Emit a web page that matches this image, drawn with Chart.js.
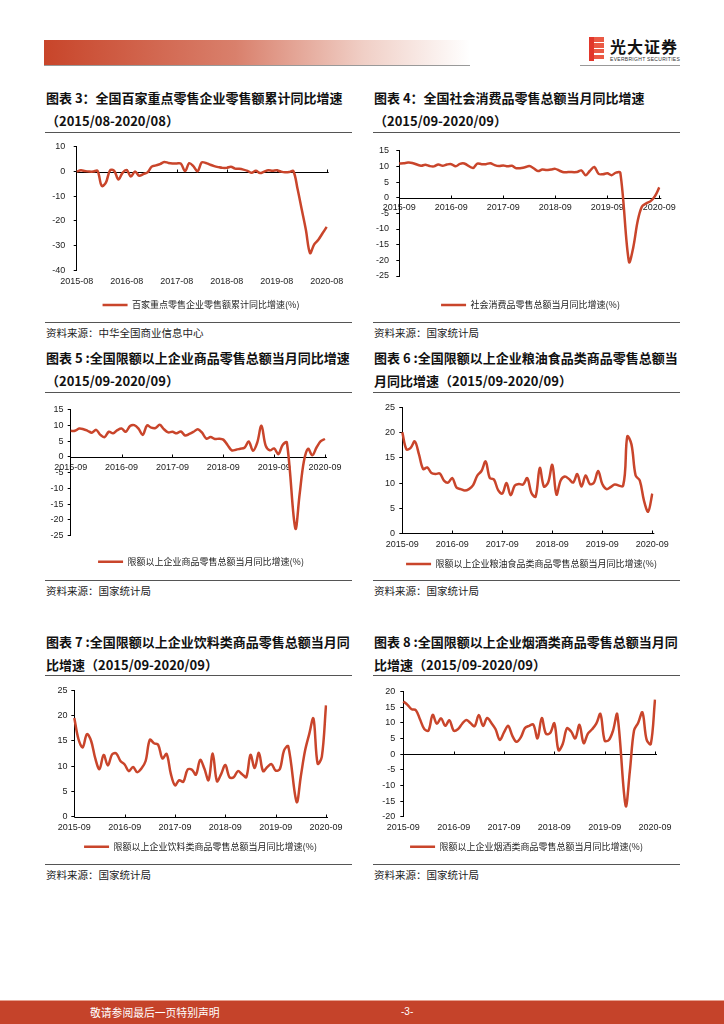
<!DOCTYPE html>
<html lang="zh-CN">
<head>
<meta charset="utf-8">
<title>社会消费品零售增速</title>
<script src="https://cdn.jsdelivr.net/npm/chart.js@4.4.1/dist/chart.umd.min.js"></script>
<style>
  html, body { margin: 0; padding: 0; background: #fff; }
  #page { position: relative; width: 724px; height: 1024px; overflow: hidden; font-family: "Noto Sans CJK SC", sans-serif; color: #111; }
  .abs { position: absolute; white-space: nowrap; }
  .title { font-size: 13px; font-weight: 700; line-height: 16px; color: #111; }
  .source { font-size: 10.5px; line-height: 14px; color: #222; }
  .rule { position: absolute; height: 1px; background: #555; }
  canvas { position: absolute; }
</style>
</head>
<body>
<div id="page">
  <div class="abs" style="left:44px;top:40px;width:426px;height:25px;background:linear-gradient(to right,#c8452a 0%,#d9806c 45%,#f0cfc6 75%,#fff 100%);"></div>
  <div class="rule" style="left:44px;top:65px;width:426px;background:#999;"></div>
  <div class="rule" style="left:580px;top:65px;width:100px;background:#999;"></div>
  <div class="abs" style="left:589px;top:37px;width:5px;height:24px;background:#e2372b;"></div>
  <div class="abs" style="left:594px;top:37px;width:10px;height:24px;background:repeating-linear-gradient(to bottom,#ea5a45 0px,#ea5a45 4.5px,#fff 4.5px,#fff 6px);"></div>
  <div class="abs" style="left:610px;top:37px;font-size:16px;line-height:18px;font-weight:700;letter-spacing:1px;color:#111;">光大证券</div>
  <div class="abs" style="left:610px;top:56px;font-family:'Liberation Sans',Arial,sans-serif;font-size:5px;line-height:6px;letter-spacing:0.3px;color:#333;">EVERBRIGHT SECURITIES</div>

  <div class="abs" style="left:0;top:1000px;width:724px;height:24px;background:#c5432a;border-top:1px solid #e6a190;"></div>
  <div class="abs" style="left:90px;top:1005px;font-size:10.8px;line-height:14px;color:#fff;">敬请参阅最后一页特别声明</div>
  <div class="abs" style="left:401px;top:1005px;font-family:'Liberation Sans',Arial,sans-serif;font-size:10px;line-height:14px;color:#fff;">-3-</div>
</div>
<script>
const LINE_RED = '#c9452b';
const CJK = '"Noto Sans CJK SC", sans-serif';
const LATIN = '"Liberation Sans", Arial, sans-serif';

// month categories
function monthLabels(startYear, startMonth, count) {
  const out = [];
  for (let i = 0; i < count; i++) {
    const m = startMonth - 1 + i;
    const y = startYear + Math.floor(m / 12);
    out.push(y + '-' + String(m % 12 + 1).padStart(2, '0'));
  }
  return out;
}
const months08 = monthLabels(2015, 8, 61);
const months09 = monthLabels(2015, 9, 61);
const yearTicks08 = ['2015-08', '2016-08', '2017-08', '2018-08', '2019-08', '2020-08'];
const yearTicks09 = ['2015-09', '2016-09', '2017-09', '2018-09', '2019-09', '2020-09'];

// 图表3 百家重点零售企业零售额累计同比增速(%)
const top100Retail = [0, 0.5, 0.2, 0, 0, 0.3, -5.8, -4.5, 0.5, 0.3,
  -3.2, -0.5, 0.6, -2, 0, -1.7, -1, -0.3, 2, 2.5,
  3, 3.9, 3.5, 3.3, 3.3, 3.2, 0.2, 3.4, 2.2, 0.1,
  3.7, 3.5, 2.8, 2.2, 1.8, 1.5, 1.5, 2, 1.2, 1.1,
  0.8, 0.3, -0.5, 0.3, -0.6, 0, 0.5, 0.3, 0.5, 0,
  -0.3, -0.2, 0.2, -7, -15.3, -23.6, -33, -29.5, -27.6, -25,
  -22.4];

// 图表4 社会消费品零售总额当月同比增速(%)
const totalRetail = [10.9, 11.0, 11.2, 11.1, null, 10.2, 10.5, 10.1, 10.0, 10.6,
  10.2, 10.6, 10.7, 10.0, 10.8, 10.9, null, 9.5, 10.9, 10.7,
  10.7, 11.0, 10.4, 10.1, 10.3, 10.0, 10.2, 9.4, null, 9.7,
  10.1, 9.4, 8.5, 9.0, 8.8, 9.0, 9.2, 8.6, 8.1, 8.2,
  null, 8.2, 8.7, 7.2, 8.6, 9.8, 7.6, 7.5, 7.8, 7.2,
  8.0, 8.0, null, -20.5, -15.8, -7.5, -2.8, -1.8, -1.1, 0.5,
  3.3];

// 图表5 限额以上企业商品零售总额当月同比增速(%)
const aboveQuotaRetail = [8.3, 8.3, 9.0, 8.8, 8.3, 7.7, 8.6, 7.0, 6.3, 8.0,
  7.5, 8.5, 9.0, 8.0, 9.8, 10.1, 9.0, 7.0, 10.0, 9.3,
  9.2, 10.2, 8.8, 7.8, 8.0, 7.5, 8.1, 6.8, 7.3, 8.0,
  8.8, 7.7, 5.8, 6.3, 5.7, 5.8, 5.5, 3.8, 2.1, 2.3,
  2.6, 2.9, 4.9, 2.0, 4.5, 9.9, 3.6, 2.1, 2.7, 0.9,
  3.8, 4.6, null, -22.7, -12, -1.5, 2.6, 0.5, 3.0, 5.0,
  5.7];

// 图表6 限额以上企业粮油食品类商品零售总额当月同比增速(%)
const grainFood = [20.1, 16.7, 17.0, 18.3, 15.7, 12.8, 13.1, 12.0, 11.8, 11.9,
  10.5, 10.1, 11.0, 9.1, 8.8, 8.5, 8.8, 9.6, 11.5, 12.4,
  14.3, 11.0, 10.7, 8.6, 7.9, 10.0, 7.6, 9.5, 9.8, 9.7,
  11.0, 8.0, 7.3, 13.0, 9.3, 10.1, 13.6, 7.7, 10.5, 11.3,
  10.8, 10.1, 11.8, 9.3, 11.5, 9.8, 10.1, 12.4, 9.8, 8.8,
  9.2, 9.7, null, 9.5, 19.3, 17.7, 11.5, 10.5, 6.5, 4.3,
  7.9];

// 图表7 限额以上企业饮料类商品零售总额当月同比增速(%)
const beverages = [19.5, 15.3, 13.7, 16.3, 15.0, 11.5, 9.4, 12.2, 10.1, 12.3,
  12.5, 11.0, 10.3, 9.0, 9.8, 8.8, 9.5, 11.0, 15.2, 14.5,
  14.2, 11.5, 12.4, 8.5, 6.2, 7.2, 6.9, 9.3, 9.3, 8.3,
  11.2, 9.5, 7.2, 12.5, 7.0, 8.4, 10.2, 7.8, 7.8, 9.0,
  8.4, 7.8, 12.2, 9.6, 12.6, 9.0, 9.8, 10.4, 9.1, 9.4,
  13.1, 13.9, null, 2.9, 8.0, 13.0, 16.3, 19.4, 10.5, 11.8,
  22.0];

// 图表8 限额以上企业烟酒类商品零售总额当月同比增速(%)
const tobaccoLiquor = [16.8, 15.7, 14.3, 14.0, 11.0, 8.0, 7.5, 12.5, 9.7, 11.4,
  9.0, 10.8, 7.5, 7.9, 9.6, 10.9, 9.9, 8.9, 12.5, 9.0,
  11.5, 9.9, 7.9, 4.5, 6.9, 9.0, 5.8, 3.9, 5.3, 8.3,
  9.0, 9.4, 5.0, 11.5, 6.5, 6.7, 9.8, 1.2, 3.2, 8.2,
  7.2, 5.0, 9.3, 3.5, 6.5, 7.9, 9.7, 12.8, 4.3, 4.5,
  7.5, 12.7, null, -16.5, -5.5, 7.5, 10.0, 13.3, 4.6, 3.2,
  17.4];

const charts = [
  { title: ['图表 3：全国百家重点零售企业零售额累计同比增速', '（2015/08-2020/08）'], col: 0, titleY: 98,
    name: '百家重点零售企业零售额累计同比增速(%)', labels: months08, ticks: yearTicks08, data: top100Retail,
    min: -40, max: 10, left: 76.7, right: 326.7, top: 141.7, bottom: 270.3, axisAt: 'bottom', labelY: 281.7,
    legendX: 200.5, legendY: 305, yPad: 8.5, ruleTop: 132.7, ruleBottom: 322.3, source: '资料来源：中华全国商业信息中心', sourceY: 333 },
  { title: ['图表 4：全国社会消费品零售总额当月同比增速', '（2015/09-2020/09）'], col: 1, titleY: 98,
    name: '社会消费品零售总额当月同比增速(%)', labels: months09, ticks: yearTicks09, data: totalRetail,
    min: -25, max: 15, left: 399.3, right: 659.3, top: 146, bottom: 276, axisAt: 'zero', labelY: 205,
    legendX: 531, legendY: 305, yPad: 7.3, ruleTop: 132.7, ruleBottom: 322.3, source: '资料来源：国家统计局', sourceY: 333 },
  { title: ['图表 5 :全国限额以上企业商品零售总额当月同比增速', '（2015/09-2020/09）'], col: 0, titleY: 358.3,
    name: '限额以上企业商品零售总额当月同比增速(%)', labels: months09, ticks: yearTicks09, data: aboveQuotaRetail,
    min: -25, max: 15, left: 70.7, right: 325, top: 408.3, bottom: 535.7, axisAt: 'zero', labelY: 466.7,
    legendX: 200.5, legendY: 561.7, yPad: 4.3, ruleTop: 392.3, ruleBottom: 580.7, source: '资料来源：国家统计局', sourceY: 591 },
  { title: ['图表 6 :全国限额以上企业粮油食品类商品零售总额当', '月同比增速（2015/09-2020/09）'], col: 1, titleY: 358.3,
    name: '限额以上企业粮油食品类商品零售总额当月同比增速(%)', labels: months09, ticks: yearTicks09, data: grainFood,
    min: 0, max: 25, left: 402.3, right: 652.3, top: 406, bottom: 533.3, axisAt: 'bottom', labelY: 544.3,
    legendX: 532, legendY: 564, yPad: 4.3, ruleTop: 392.3, ruleBottom: 580.7, source: '资料来源：国家统计局', sourceY: 590.5 },
  { title: ['图表 7 :全国限额以上企业饮料类商品零售总额当月同', '比增速（2015/09-2020/09）'], col: 0, titleY: 641.7,
    name: '限额以上企业饮料类商品零售总额当月同比增速(%)', labels: months09, ticks: yearTicks09, data: beverages,
    min: 0, max: 25, left: 74.3, right: 326, top: 689, bottom: 816.7, axisAt: 'bottom', labelY: 827.3,
    legendX: 201, legendY: 846.7, yPad: 3.7, ruleTop: 675, ruleBottom: 864, source: '资料来源：国家统计局', sourceY: 874.5 },
  { title: ['图表 8 :全国限额以上企业烟酒类商品零售总额当月同', '比增速（2015/09-2020/09）'], col: 1, titleY: 641.7,
    name: '限额以上企业烟酒类商品零售总额当月同比增速(%)', labels: months09, ticks: yearTicks09, data: tobaccoLiquor,
    min: -20, max: 20, left: 403.3, right: 655, top: 689, bottom: 816.7, axisAt: 'bottom', labelY: 827.3,
    legendX: 527, legendY: 846.7, yPad: 5, ruleTop: 675, ruleBottom: 864, source: '资料来源：国家统计局', sourceY: 874.5 }
];

const page = document.getElementById('page');

// zero line with small yearly tick marks
const zeroAxis = {
  id: 'zeroAxis',
  beforeDatasetsDraw(chart, args, opts) {
    const { ctx, chartArea, scales } = chart;
    const y0 = Math.round(scales.y.getPixelForValue(0)) + 0.5;
    ctx.save();
    ctx.strokeStyle = '#000';
    ctx.lineWidth = 1;
    ctx.beginPath();
    ctx.moveTo(chartArea.left, y0);
    ctx.lineTo(chartArea.right + 2, y0);
    chart.data.labels.forEach((label, i) => {
      if (i > 0 && opts.ticks.includes(label)) {
        const x = Math.round(scales.x.getPixelForValue(i)) + 0.5;
        ctx.moveTo(x, y0);
        ctx.lineTo(x, y0 - 3);
      }
    });
    ctx.stroke();
    ctx.restore();
  }
};

function addDiv(cls, text, x, y, extra) {
  const d = document.createElement('div');
  d.className = cls;
  d.textContent = text;
  d.style.left = x + 'px';
  d.style.top = y + 'px';
  if (extra) Object.assign(d.style, extra);
  page.appendChild(d);
  return d;
}

function drawChart(c) {
  const colLeft = c.col === 0 ? 45 : 373;
  const colWidth = 307;
  addDiv('abs title', c.title[0], colLeft + 1, c.titleY - 8);
  addDiv('abs title', c.title[1], colLeft + 1, c.titleY + 23 - 8);
  addDiv('rule', '', colLeft, c.ruleTop - 0.5, { width: colWidth + 'px' });
  addDiv('rule', '', colLeft, c.ruleBottom - 0.5, { width: colWidth + 'px' });
  addDiv('abs source', c.source, colLeft + 1, c.sourceY - 7);

  // canvas centred on the legend so that the legend lands where it should
  const half = Math.max(c.legendX - (c.left - 32), c.right + 8 - c.legendX);
  const cx = Math.round(c.legendX - half);
  const cw = Math.round(half * 2);
  const cy = Math.floor(c.top - 8);
  const atZero = c.axisAt === 'zero';
  const legendPad = atZero ? c.legendY - c.bottom - 4.5 : 10;
  const xHeight = atZero ? 0 : c.legendY - c.bottom - 14.5;
  const legendH = 9 + legendPad + 10;
  const innerBottom = c.bottom - cy + xHeight + legendH;
  const ch = Math.ceil(innerBottom);
  const zeroPx = c.top + (c.max / (c.max - c.min)) * (c.bottom - c.top);
  const rightGap = cx + cw - c.right;

  const canvas = document.createElement('canvas');
  canvas.width = cw;
  canvas.height = ch;
  canvas.style.left = cx + 'px';
  canvas.style.top = cy + 'px';
  canvas.style.width = cw + 'px';
  canvas.style.height = ch + 'px';
  page.appendChild(canvas);

  new Chart(canvas, {
    type: 'line',
    data: {
      labels: c.labels,
      datasets: [{
        label: c.name,
        data: c.data,
        yAxisID: 'y',
        borderColor: LINE_RED,
        backgroundColor: LINE_RED,
        borderWidth: 2.5,
        pointRadius: 0,
        tension: 0.35,
        spanGaps: true
      }]
    },
    options: {
      responsive: false,
      animation: false,
      layout: { padding: { top: c.top - cy, left: 0, right: 0, bottom: ch - innerBottom } },
      scales: {
        x: {
          axis: 'x',
          type: 'category',
          position: atZero ? { y: 0 } : 'bottom',
          offset: false,
          grid: { display: false, drawTicks: false },
          border: { display: false },
          ticks: {
            autoSkip: false,
            maxRotation: 0,
            minRotation: 0,
            padding: atZero ? c.labelY - zeroPx - 5.4 : c.labelY - c.bottom - 5.4,
            color: '#222',
            font: { family: LATIN, size: 9 },
            callback: function (value) {
              const lab = this.getLabelForValue(value);
              return c.ticks.includes(lab) ? lab : '';
            }
          },
          afterFit: s => { s.height = xHeight; }
        },
        y: {
          position: 'left',
          min: c.min,
          max: c.max,
          grid: { display: true, drawOnChartArea: false, drawTicks: true, tickLength: 3, color: '#000' },
          border: { display: true, color: '#000', width: 1 },
          ticks: { stepSize: 5, padding: c.yPad, color: '#222', font: { family: LATIN, size: 9 } },
          afterFit: s => { s.width = c.left - cx; }
        },
        // empty spacer on the right, keeps the plot width while the legend stays centred
        spacer: {
          axis: 'y',
          type: 'linear',
          position: 'right',
          grid: { display: false, drawTicks: false },
          border: { display: false },
          ticks: { display: false },
          afterFit: s => { s.width = rightGap; }
        }
      },
      plugins: {
        zeroAxis: { ticks: c.ticks },
        tooltip: { enabled: false },
        legend: {
          position: 'bottom',
          align: 'center',
          labels: {
            boxWidth: 25,
            boxHeight: 2.5,
            padding: legendPad,
            color: '#222',
            font: { family: CJK, size: 9 },
            generateLabels: chart => Chart.defaults.plugins.legend.labels.generateLabels(chart)
              .map(item => Object.assign(item, { lineWidth: 0, fillStyle: LINE_RED }))
          }
        }
      }
    },
    plugins: [zeroAxis]
  });
}

charts.forEach(drawChart);
</script>
</body>
</html>
